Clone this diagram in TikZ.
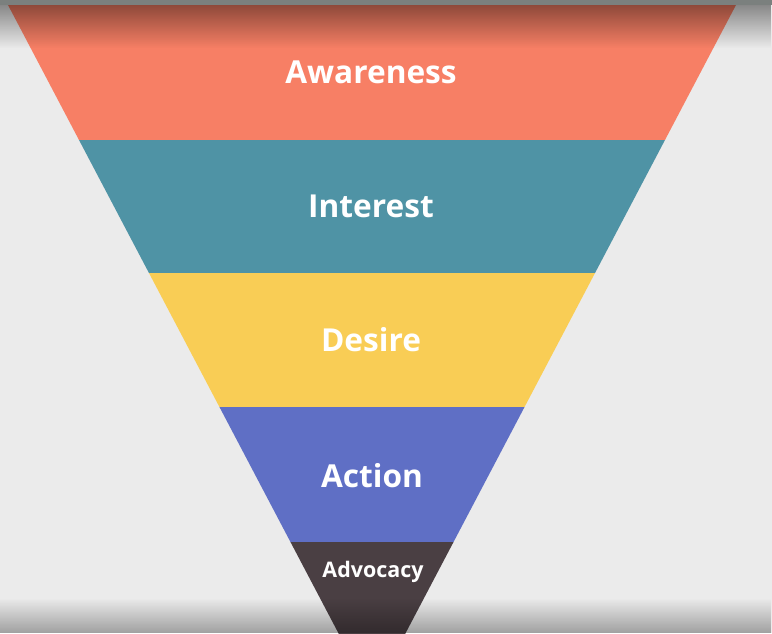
\documentclass[tikz,border=0pt]{standalone}
\usepackage{fontspec}
\setmainfont{Open Sans}
\usetikzlibrary{fadings}

\definecolor{bgGrey}{HTML}{EBEBEB}
\definecolor{topBar}{HTML}{7B807E}
\definecolor{awareCol}{HTML}{F77F65}
\definecolor{interestCol}{HTML}{4F93A5}
\definecolor{desireCol}{HTML}{F9CD55}
\definecolor{actionCol}{HTML}{5F6FC5}
\definecolor{advocacyCol}{HTML}{4A3F43}

\tikzfading[name=shadowtop, top color=transparent!58, bottom color=transparent!100]
\tikzfading[name=shadowbottom, top color=transparent!100, bottom color=transparent!68]

\begin{document}
\begin{tikzpicture}[x=0.03cm,y=-0.03cm]
    \tikzset{
        stage/.style={text=white,font=\bfseries\fontsize{27}{30}\selectfont,anchor=center},
        small stage/.style={stage,font=\bfseries\fontsize{18.3}{22}\selectfont}
    }

    % background
    \fill[bgGrey] (0,0) rectangle (772,633);
    \useasboundingbox (0,0) rectangle (772,633);

    % funnel bands
    \begin{scope}
        \clip (8,5) -- (736,5) -- (372,697) -- cycle;
        \fill[awareCol]    (0,5)   rectangle (772,140);
        \fill[interestCol] (0,140) rectangle (772,273);
        \fill[desireCol]   (0,273) rectangle (772,407);
        \fill[actionCol]   (0,407) rectangle (772,542);
        \fill[advocacyCol] (0,542) rectangle (772,640);
    \end{scope}

    \node[stage] (aware)    at (371,72)  {Awareness};
    \node[stage] (interest) at (371,206) {Interest};
    \node[stage] (desire)   at (371,340) {Desire};
    \node[stage] (action)   at (372,476) {Action};
    \node[small stage] (advocacy) at (373,572) {Advocacy};

    % shadows at the edges
    \fill[topBar] (0,0) rectangle (772,5);
    \fill[black,path fading=shadowtop] (0,5) rectangle (772,48);
    \fill[black,path fading=shadowbottom] (0,598) rectangle (772,633);
\end{tikzpicture}
\end{document}
